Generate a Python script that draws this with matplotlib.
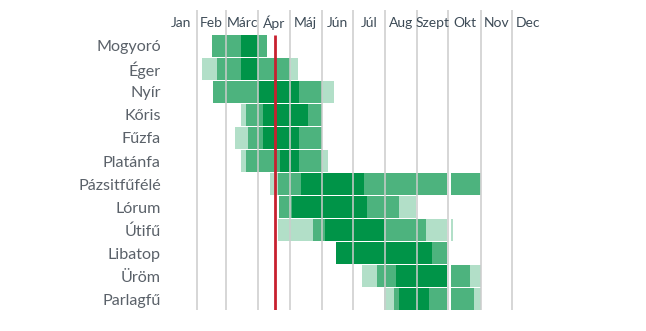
import matplotlib.pyplot as plt

# pollen calendar data, day-of-year segments: (start, end, level) 1=light 2=medium 3=dark
plants = ['Mogyoró', 'Éger', 'Nyír', 'Kőris', 'Fűzfa', 'Platánfa',
          'Pázsitfűfélé', 'Lórum', 'Útifű', 'Libatop', 'Üröm', 'Parlagfű']

segments = [
    [(45, 73, 2), (73, 90, 3), (90, 98, 2)],
    [(36, 50, 1), (50, 73, 2), (73, 90, 3), (90, 120, 2), (120, 128, 1)],
    [(46, 90, 2), (90, 129, 3), (129, 151, 2), (151, 163, 1)],
    [(73, 78, 1), (78, 94, 2), (94, 138, 3), (138, 151, 2)],
    [(67, 80, 1), (80, 94, 2), (94, 129, 3), (129, 151, 2)],
    [(73, 78, 1), (78, 111, 2), (111, 129, 3), (129, 151, 2), (151, 157, 1)],
    [(101, 109, 1), (109, 131, 2), (131, 192, 3), (192, 272, 2), (275, 303.5, 2), (303.5, 304.5, 1)],
    [(110, 122, 2), (122, 195, 3), (195, 225, 2), (225, 242, 1)],
    [(109, 143, 1), (143, 154, 2), (154, 211, 3), (211, 251, 2), (251, 272, 1), (275, 277, 1)],
    [(165, 257, 3), (257, 272, 2)],
    [(190, 204, 1), (204, 222, 2), (222, 272, 3), (275, 294, 2), (294, 304, 1)],
    [(211, 221, 1), (221, 225, 2), (225, 254, 3), (254, 272, 2), (275, 298, 2), (298, 304, 1)],
]

months = ['Jan', 'Feb', 'Márc', 'Ápr', 'Máj', 'Jún', 'Júl', 'Aug', 'Szept', 'Okt', 'Nov', 'Dec']
month_days = [31, 28, 31, 30, 31, 30, 31, 31, 30, 31, 30, 31]
today = 106

colors = {1: '#b2dfc8', 2: '#4db37e', 3: '#009448'}

plt.rcParams['font.family'] = ['Lato', 'DejaVu Sans']

fig = plt.figure(figsize=(6.46, 3.31), dpi=100)
ax = fig.add_axes([165 / 646, 21 / 331, 379 / 646, 300 / 331])

for i, segs in enumerate(segments):
    for start, end, lvl in segs:
        ax.barh(i, end - start, left=start, height=0.955, color=colors[lvl],
                linewidth=0, zorder=2)

# month boundaries
edges = [0]
for d in month_days:
    edges.append(edges[-1] + d)
for e in edges[1:-1]:
    ax.axvline(e, color='#cccccc', linewidth=1.1, zorder=3)

for m, a, b in zip(months, edges[:-1], edges[1:]):
    ax.text((a + b) / 2, -1.0, m, ha='center', va='center', fontsize=10,
            color='#3d4b57')

ax.plot([today, today], [-0.48, 11.48], color='#c8202f', linewidth=2, zorder=4,
        solid_capstyle='butt')

ax.set_xlim(0, 365)
ax.set_ylim(11.478, -1.565)
ax.set_yticks(range(len(plants)))
ax.set_yticklabels(plants, fontsize=11.6, color='#5a6169')
ax.tick_params(axis='y', length=0, pad=3)
ax.set_xticks([])
for s in ax.spines.values():
    s.set_visible(False)

fig.savefig('out.png', dpi=100)
